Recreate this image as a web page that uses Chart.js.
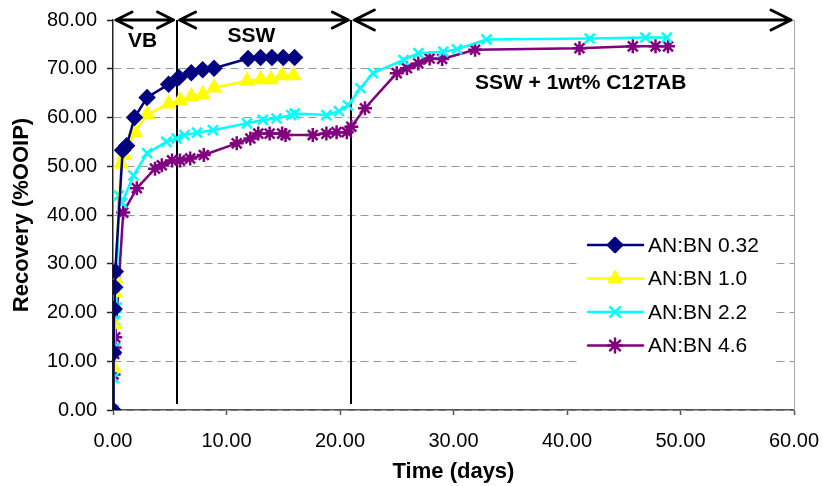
<!DOCTYPE html>
<html>
<head>
<meta charset="utf-8">
<script src="https://cdn.jsdelivr.net/npm/chart.js@4.4.1/dist/chart.umd.min.js"></script>
<style>
  html, body { margin: 0; padding: 0; background: #fff; }
</style>
</head>
<body>
<canvas id="myChart" width="823" height="486"></canvas>
<script>
// series names (legend)
const seriesNames = ['AN:BN 0.32', 'AN:BN 1.0', 'AN:BN 2.2', 'AN:BN 4.6'];

// AN:BN 0.32
const days032 = [0, 0.05, 0.1, 0.15, 0.2, 0.85, 1.2, 1.9, 3.0, 4.9, 5.8, 6.9, 7.9, 8.9, 11.9, 13.0, 14.0, 15.0, 16.0];
const rec032  = [0, 11.8, 20.7, 25.2, 28.4, 53.3, 54.2, 60.0, 64.1, 66.8, 68.2, 69.2, 69.8, 70.1, 72.1, 72.3, 72.3, 72.3, 72.3];
// AN:BN 1.0
const days10 = [0, 0.05, 0.1, 0.15, 0.2, 0.7, 1.0, 1.9, 3.0, 4.9, 5.9, 6.9, 7.9, 8.9, 11.8, 13.0, 13.9, 14.9, 15.9];
const rec10  = [0, 8.7, 17.6, 24.1, 26.9, 50.5, 52.3, 57.0, 60.6, 62.8, 63.5, 64.3, 64.7, 66.1, 67.5, 67.8, 67.8, 68.6, 68.6];
// AN:BN 2.2
const days22 = [0, 0.05, 0.1, 0.2, 0.3, 0.5, 0.8, 1.8, 3.0, 4.7, 5.6, 6.3, 7.4, 8.8, 11.8, 13.2, 14.4, 15.7, 16.0, 18.8, 19.9, 20.7, 21.8, 22.9, 25.6, 26.9, 29.1, 30.3, 32.9, 42.0, 46.9, 48.8];
const rec22  = [0, 6.6, 12.8, 18.3, 21.0, 44.0, 42.5, 48.1, 52.7, 55.0, 55.7, 56.4, 56.9, 57.4, 58.8, 59.5, 59.8, 60.5, 60.8, 60.5, 61.3, 62.5, 66.0, 69.1, 71.8, 73.2, 73.5, 74.0, 76.0, 76.2, 76.4, 76.4];
// AN:BN 4.6
const days46 = [0, 0.05, 0.1, 0.15, 0.2, 0.9, 2.1, 3.7, 4.3, 5.2, 5.9, 6.8, 8.0, 10.9, 12.1, 12.8, 13.8, 14.9, 15.2, 17.6, 18.8, 19.7, 20.6, 21.0, 22.2, 25.0, 25.9, 26.9, 27.9, 29.0, 31.9, 41.1, 45.8, 47.8, 48.9];
const rec46  = [0, 7.3, 11.5, 12.8, 14.9, 40.5, 45.5, 49.5, 50.2, 51.2, 51.2, 51.6, 52.3, 54.7, 55.7, 56.7, 56.7, 56.7, 56.4, 56.4, 56.7, 57.0, 57.0, 58.1, 61.9, 69.1, 70.1, 71.1, 72.1, 72.0, 73.9, 74.2, 74.6, 74.6, 74.6];

// axis ticks
const xTicks = [0, 10, 20, 30, 40, 50, 60];
const yTicks = [0, 10, 20, 30, 40, 50, 60, 70, 80];

// flooding stages: boundaries (days) and labels with their anchor (day, recovery)
const stageBounds = [0, 5.6, 21, 60];
const stageNames = ['VB', 'SSW', 'SSW + 1wt% C12TAB'];
const stageLabelX = [2.6, 12.2, 41.2];
const stageLabelY = [75.6, 76.6, 67.1];

const colors = ['#000080', '#FFFF00', '#00FFFF', '#800080'];
const markers = ['rectRot', 'triangle', 'crossRot', 'star'];
const markerSize = [7, 7, 7, 7];

const toPts = (xs, ys) => xs.map((x, i) => ({ x: x, y: ys[i] }));
const allDays = [days032, days10, days22, days46];
const allRec = [rec032, rec10, rec22, rec46];

const datasets = seriesNames.map((name, i) => ({
  label: name,
  data: toPts(allDays[i], allRec[i]),
  borderColor: colors[i],
  backgroundColor: colors[i],
  pointBackgroundColor: colors[i],
  pointBorderColor: colors[i],
  pointStyle: markers[i],
  pointRadius: markerSize[i],
  pointBorderWidth: 2.5,
  borderWidth: 2.5,
  tension: 0,
  fill: false
}));

const FONT = 'Liberation Sans, Arial, sans-serif';

// stage lines, arrows, labels + in-plot legend
const stagePlugin = {
  id: 'stages',
  beforeDatasetsDraw(chart) {
    const { ctx, chartArea, scales: { x } } = chart;
    ctx.save();
    // right border of plot area
    ctx.beginPath();
    ctx.strokeStyle = '#aaa';
    ctx.lineWidth = 1;
    ctx.moveTo(chartArea.right + 0.5, chartArea.top);
    ctx.lineTo(chartArea.right + 0.5, chartArea.bottom);
    ctx.stroke();
    ctx.strokeStyle = '#000';
    ctx.lineWidth = 2;
    for (let i = 1; i < stageBounds.length - 1; i++) {
      const px = Math.round(x.getPixelForValue(stageBounds[i]));
      ctx.beginPath();
      ctx.moveTo(px, chartArea.top);
      ctx.lineTo(px, chartArea.bottom - 6);
      ctx.stroke();
    }
    ctx.restore();
  },
  afterDatasetsDraw(chart) {
    const { ctx, chartArea, scales: { x, y } } = chart;
    ctx.save();
    // arrows
    const ay = y.getPixelForValue(80);
    ctx.strokeStyle = '#000';
    ctx.lineWidth = 3;
    ctx.lineCap = 'round';
    ctx.lineJoin = 'round';
    for (let i = 0; i < stageBounds.length - 1; i++) {
      const x0 = x.getPixelForValue(stageBounds[i]) + 3;
      const x1 = x.getPixelForValue(stageBounds[i + 1]) - 3;
      const ah = i === 2 ? 20 : 16, av = i === 2 ? 10 : 8;
      ctx.beginPath();
      ctx.moveTo(x0, ay); ctx.lineTo(x1, ay);
      ctx.moveTo(x0 + ah, ay - av); ctx.lineTo(x0, ay); ctx.lineTo(x0 + ah, ay + av);
      ctx.moveTo(x1 - ah, ay - av); ctx.lineTo(x1, ay); ctx.lineTo(x1 - ah, ay + av);
      ctx.stroke();
    }
    // stage labels
    ctx.fillStyle = '#000';
    ctx.font = 'bold 21px ' + FONT;
    ctx.textAlign = 'center';
    ctx.textBaseline = 'middle';
    stageNames.forEach((t, i) => {
      ctx.fillText(t, x.getPixelForValue(stageLabelX[i]), y.getPixelForValue(stageLabelY[i]));
    });

    // legend
    const lx = chartArea.right - 216, ly = chartArea.top + 206;
    ctx.fillStyle = '#fff';
    ctx.fillRect(lx, ly, 196, 150);
    ctx.font = '21px ' + FONT;
    ctx.textAlign = 'left';
    chart.data.datasets.forEach((ds, i) => {
      const cy = ly + 19 + i * 33.5;
      ctx.strokeStyle = ds.borderColor;
      ctx.lineWidth = 2.5;
      ctx.beginPath();
      ctx.moveTo(lx + 10, cy); ctx.lineTo(lx + 65, cy);
      ctx.stroke();
      ctx.fillStyle = ds.pointBackgroundColor;
      Chart.helpers.drawPoint(ctx, { pointStyle: ds.pointStyle, radius: ds.pointRadius, rotation: 0, borderWidth: 2.5 }, lx + 37, cy);
      ctx.fillStyle = '#000';
      ctx.fillText(ds.label, lx + 70, cy + 1);
    });
    ctx.restore();
  }
};

new Chart(document.getElementById('myChart'), {
  type: 'line',
  data: { datasets: datasets },
  plugins: [stagePlugin],
  options: {
    responsive: false,
    devicePixelRatio: 1,
    animation: false,
    layout: { padding: { left: 0, top: 20, right: 29, bottom: 0 } },
    plugins: { legend: { display: false }, tooltip: { enabled: false } },
    scales: {
      x: {
        type: 'linear',
        min: 0, max: 60,
        afterBuildTicks: s => { s.ticks = xTicks.map(v => ({ value: v })); },
        afterFit: s => { s.height = 76; s.paddingRight = 0; s.paddingLeft = 0; },
        ticks: {
          padding: 14,
          color: '#000',
          font: { family: FONT, size: 20 },
          maxRotation: 0,
          callback: v => Number(v).toFixed(2)
        },
        grid: { drawOnChartArea: false, drawTicks: true, tickLength: 5, tickColor: '#555', tickWidth: 1.5 },
        border: { display: true, color: '#555', width: 1.5 },
        title: {
          display: true, text: 'Time (days)', color: '#000',
          font: { family: FONT, size: 22, weight: 'bold' },
          padding: { top: 0, bottom: 1 }
        }
      },
      y: {
        min: 0, max: 80,
        afterBuildTicks: s => { s.ticks = yTicks.map(v => ({ value: v })); },
        afterFit: s => { s.width = 113; s.paddingTop = 0; s.paddingBottom = 0; },
        ticks: {
          padding: 10,
          color: '#000',
          font: { family: FONT, size: 20 },
          callback: v => Number(v).toFixed(2)
        },
        grid: { color: '#999', lineWidth: 1, drawTicks: true, tickLength: 6, tickColor: '#222', tickWidth: 1.5 },
        border: { display: true, color: '#222', width: 1.5, dash: [8, 5] },
        title: {
          display: true, text: 'Recovery (%OOIP)', color: '#000',
          font: { family: FONT, size: 22, weight: 'bold' },
          padding: { top: 9, bottom: 0 }
        }
      }
    }
  }
});
</script>
</body>
</html>
